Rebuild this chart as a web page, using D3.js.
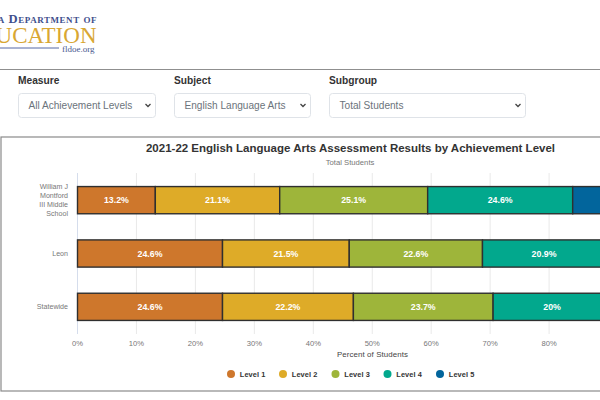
<!DOCTYPE html>
<html>
<head>
<meta charset="utf-8">
<script src="https://cdn.jsdelivr.net/npm/d3@7"></script>
<style>
html,body{margin:0;padding:0;background:#fff;overflow:hidden}
svg{display:block;font-family:"Liberation Sans",Arial,sans-serif}
</style>
</head>
<body>
<svg id="c" width="600" height="400"></svg>
<script>
const categories = ["William J Montford III Middle School", "Leon", "Statewide"];
const categoryLines = [["William J", "Montford", "III Middle", "School"], ["Leon"], ["Statewide"]];
const levels = ["Level 1", "Level 2", "Level 3", "Level 4", "Level 5"];
const level1 = [13.2, 24.6, 24.6];
const level2 = [21.1, 21.5, 22.2];
const level3 = [25.1, 22.6, 23.7];
const level4 = [24.6, 20.9, 20];
const level5 = [16, 10.4, 9.5];
const seriesValues = [level1, level2, level3, level4, level5];
const levelColors = ["#CE772C", "#DEAB28", "#9EB53A", "#02A88D", "#02659C"];
const xTicks = [0, 10, 20, 30, 40, 50, 60, 70, 80, 90, 100];
const filters = [
  {label: "Measure", value: "All Achievement Levels"},
  {label: "Subject", value: "English Language Arts"},
  {label: "Subgroup", value: "Total Students"}
];
const filterX = [18, 174, 329];
const filterW = [137, 136, 196];

const svg = d3.select("#c");

// logo
const logo = svg.append("g");
logo.append("text").attr("x", 97).attr("y", 22.5).attr("text-anchor", "end")
  .attr("font-family", "'Liberation Serif',serif").attr("font-size", 12.6).attr("font-weight", 700)
  .attr("fill", "#3F4F8C").style("font-variant", "small-caps").attr("letter-spacing", 0.55).text("Florida Department of");
logo.append("text").attr("x", 96.5).attr("y", 43).attr("text-anchor", "end")
  .attr("font-family", "'Liberation Serif',serif").attr("font-size", 23)
  .attr("fill", "#D9A733").text("EDUCATION");
logo.append("line").attr("x1", 0).attr("x2", 59).attr("y1", 48).attr("y2", 48).attr("stroke", "#5468A6").attr("stroke-width", 1);
logo.append("text").attr("x", 94.5).attr("y", 51.5).attr("text-anchor", "end")
  .attr("font-family", "'Liberation Serif',serif").attr("font-size", 9).attr("fill", "#4A5A8F").text("fldoe.org");

// page rules
svg.append("line").attr("x1", 0).attr("x2", 600).attr("y1", 69.5).attr("y2", 69.5).attr("stroke", "#8f8f8f").attr("stroke-width", 1);

// filters
const f = svg.append("g").selectAll("g").data(filters).join("g");
f.append("text").attr("x", (d, i) => filterX[i]).attr("y", 84).attr("font-size", 10.2).attr("font-weight", 700)
  .attr("fill", "#333").text(d => d.label);
f.append("rect").attr("x", (d, i) => filterX[i] + .5).attr("y", 93.5).attr("width", (d, i) => filterW[i]).attr("height", 24)
  .attr("rx", 3).attr("fill", "#fff").attr("stroke", "#dfe3e8");
f.append("text").attr("x", (d, i) => filterX[i] + 10.5).attr("y", 108.7).attr("font-size", 10.1).attr("fill", "#6b737b").text(d => d.value);
f.append("path").attr("fill", "none").attr("stroke", "#444").attr("stroke-width", 1.3)
  .attr("d", (d, i) => { const x = filterX[i] + filterW[i] - 7; return `M${x - 2.5},104 L${x},106.5 L${x + 2.5},104`; });

// chart frame
svg.append("rect").attr("x", 1).attr("y", 137).attr("width", 640).attr("height", 254)
  .attr("fill", "#fff").attr("stroke", "#8a8a8a").attr("stroke-width", 1.2);

svg.append("text").attr("x", 350.5).attr("y", 151.5).attr("text-anchor", "middle").attr("font-size", 11.5)
  .attr("font-weight", 700).attr("fill", "#333")
  .text("2021-22 English Language Arts Assessment Results by Achievement Level");
svg.append("text").attr("x", 350).attr("y", 164.5).attr("text-anchor", "middle").attr("font-size", 7.7)
  .attr("fill", "#777").text("Total Students");

// scales
const x = d3.scaleLinear().domain([0, 100]).range([77.5, 667]);
const y = d3.scaleBand().domain(categories).range([173.5, 333.5]).paddingInner(0.49).paddingOuter(0.245);

// grid
svg.append("g").selectAll("line").data(xTicks).join("line")
  .attr("x1", d => x(d)).attr("x2", d => x(d)).attr("y1", 173).attr("y2", 334)
  .attr("stroke", d => d === 0 ? "#d5ddec" : "#e9e9e9").attr("stroke-width", 1);

// stacks
const rows = categories.map((c, i) => {
  const o = {category: c};
  levels.forEach((l, j) => o[l] = seriesValues[j][i]);
  return o;
});
const stacked = d3.stack().keys(levels)(rows);
const groups = svg.append("g").selectAll("g").data(stacked).join("g").attr("fill", (d, i) => levelColors[i]);
groups.selectAll("rect").data(d => d).join("rect")
  .attr("x", d => x(d[0])).attr("width", d => x(d[1]) - x(d[0]))
  .attr("y", d => y(d.data.category)).attr("height", y.bandwidth())
  .attr("stroke", "#2f2f2f").attr("stroke-width", 1.4);
groups.selectAll("text").data(d => d.map(v => ({v, key: d.key}))).join("text")
  .attr("x", d => (x(d.v[0]) + x(d.v[1])) / 2).attr("y", d => y(d.v.data.category) + y.bandwidth() / 2 + 3.3)
  .attr("text-anchor", "middle").attr("font-size", 8.8).attr("font-weight", 700).attr("fill", "#fff")
  .text(d => d.v[1] - d.v[0] > 0 ? d3.format("~g")(+(d.v[1] - d.v[0]).toFixed(1)) + "%" : "");

// category labels
const cat = svg.append("g").selectAll("text").data(categories).join("text")
  .attr("text-anchor", "end").attr("font-size", 7.1).attr("fill", "#777")
  .attr("y", d => y(d) + y.bandwidth() / 2 + 2.5);
cat.each(function (d, i) {
  const lines = categoryLines[i], t = d3.select(this);
  lines.forEach((s, k) => t.append("tspan").attr("x", 68).attr("dy", k === 0 ? -(lines.length - 1) * 4.5 : 9).text(s));
});

// x axis labels
svg.append("g").selectAll("text").data(xTicks).join("text")
  .attr("x", d => x(d)).attr("y", 346).attr("text-anchor", "middle").attr("font-size", 7.6)
  .attr("fill", "#777").text(d => d + "%");
svg.append("text").attr("x", 372.5).attr("y", 357).attr("text-anchor", "middle").attr("font-size", 7.9)
  .attr("font-weight", 400).attr("fill", "#444").attr("letter-spacing", 0.1).text("Percent of Students");

// legend
const legendX = [231, 283, 335.5, 387.5, 440];
const lg = svg.append("g").selectAll("g").data(levels).join("g");
lg.append("circle").attr("cx", (d, i) => legendX[i]).attr("cy", 374).attr("r", 4).attr("fill", (d, i) => levelColors[i]);
lg.append("text").attr("x", (d, i) => legendX[i] + 8.8).attr("y", 376.8).attr("font-size", 7.4).attr("font-weight", 700)
  .attr("fill", "#333").attr("letter-spacing", 0.1).text(d => d);
</script>
</body>
</html>
